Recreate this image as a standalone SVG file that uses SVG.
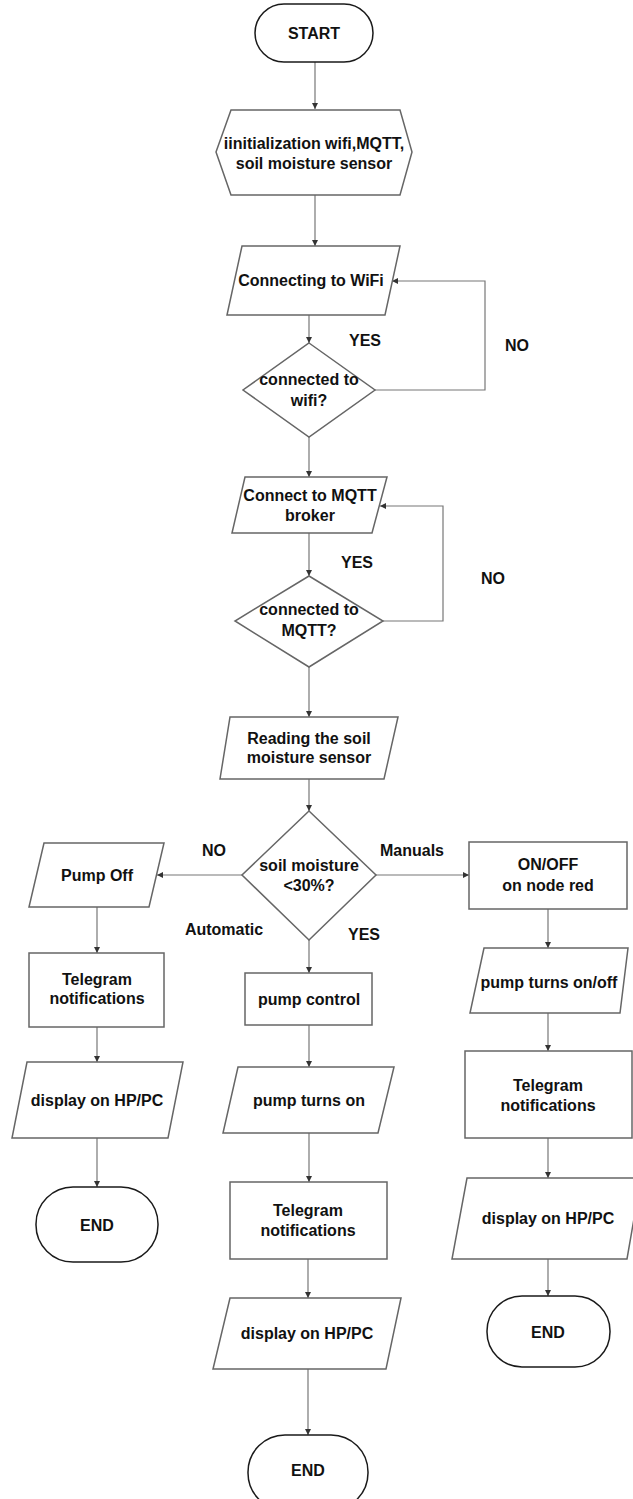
<svg xmlns="http://www.w3.org/2000/svg" width="633" height="1499" viewBox="0 0 633 1499">
<style>
.shape{fill:#ffffff;stroke:#666666;stroke-width:1.5}
.term{fill:#ffffff;stroke:#1a1a1a;stroke-width:1.5}
.t{font-family:"Liberation Sans",Arial,sans-serif;font-weight:bold;font-size:16px;fill:#111111;text-anchor:middle;dominant-baseline:central}
.conn{fill:none;stroke:#777777;stroke-width:1.2}
</style>
<defs>
<marker id="arr" markerUnits="userSpaceOnUse" markerWidth="8" markerHeight="8" refX="6" refY="3" orient="auto">
<path d="M0,0 L6,3 L0,6 z" fill="#333333"/>
</marker>
</defs>
<rect width="633" height="1499" fill="#ffffff"/>

<g id="connectors">
<path class="conn" d="M315,62 V109" marker-end="url(#arr)"/>
<path class="conn" d="M315,195 V246" marker-end="url(#arr)"/>
<path class="conn" d="M309,315 V343" marker-end="url(#arr)"/>
<path class="conn" d="M375,390 H485 V281 H392" marker-end="url(#arr)"/>
<path class="conn" d="M309,437 V477" marker-end="url(#arr)"/>
<path class="conn" d="M309,533 V576" marker-end="url(#arr)"/>
<path class="conn" d="M383,621 H443 V506 H380" marker-end="url(#arr)"/>
<path class="conn" d="M309,667 V717" marker-end="url(#arr)"/>
<path class="conn" d="M309,779 V811" marker-end="url(#arr)"/>
<path class="conn" d="M242,875 H157" marker-end="url(#arr)"/>
<path class="conn" d="M375,875 H469" marker-end="url(#arr)"/>
<path class="conn" d="M309,940 V973" marker-end="url(#arr)"/>
<path class="conn" d="M97,907 V953" marker-end="url(#arr)"/>
<path class="conn" d="M97,1027 V1062" marker-end="url(#arr)"/>
<path class="conn" d="M97,1138 V1187" marker-end="url(#arr)"/>
<path class="conn" d="M309,1025 V1067" marker-end="url(#arr)"/>
<path class="conn" d="M309,1133 V1182" marker-end="url(#arr)"/>
<path class="conn" d="M308,1259 V1298" marker-end="url(#arr)"/>
<path class="conn" d="M308,1369 V1435" marker-end="url(#arr)"/>
<path class="conn" d="M548,909 V948" marker-end="url(#arr)"/>
<path class="conn" d="M548,1013 V1051" marker-end="url(#arr)"/>
<path class="conn" d="M548,1138 V1178" marker-end="url(#arr)"/>
<path class="conn" d="M548,1259 V1296" marker-end="url(#arr)"/>
</g>

<g id="labels">
<text class="t" x="365" y="340">YES</text>
<text class="t" x="517" y="345">NO</text>
<text class="t" x="357" y="562">YES</text>
<text class="t" x="493" y="578">NO</text>
<text class="t" x="214" y="850">NO</text>
<text class="t" x="412" y="850">Manuals</text>
<text class="t" x="224" y="929">Automatic</text>
<text class="t" x="364" y="934">YES</text>
</g>

<g id="start">
<rect class="term" x="255" y="4" width="118" height="58" rx="29" ry="29"/>
<text class="t" x="314" y="33">START</text>
</g>

<g id="init">
<polygon class="shape" points="231,110 400,110 412,152 400,195 231,195 216,152"/>
<text class="t" x="314" y="143">iinitialization wifi,MQTT,</text>
<text class="t" x="314" y="163">soil moisture sensor</text>
</g>

<g id="connect-wifi">
<polygon class="shape" points="242,246 400,246 385,315 227,315"/>
<text class="t" x="311" y="280">Connecting to WiFi</text>
</g>

<g id="check-wifi">
<polygon class="shape" points="309,343 375,390 309,437 243,390"/>
<text class="t" x="309" y="379">connected to</text>
<text class="t" x="309" y="400">wifi?</text>
</g>

<g id="connect-mqtt">
<polygon class="shape" points="245,477 387,477 372,533 232,533"/>
<text class="t" x="310" y="495">Connect to MQTT</text>
<text class="t" x="310" y="515">broker</text>
</g>

<g id="check-mqtt">
<polygon class="shape" points="309,576 383,621 309,667 235,621"/>
<text class="t" x="309" y="609">connected to</text>
<text class="t" x="309" y="630">MQTT?</text>
</g>

<g id="read-sensor">
<polygon class="shape" points="230,717 398,717 384,779 220,779"/>
<text class="t" x="309" y="738">Reading the soil</text>
<text class="t" x="309" y="757">moisture sensor</text>
</g>

<g id="check-moisture">
<polygon class="shape" points="309,811 376,875 309,940 242,875"/>
<text class="t" x="309" y="865">soil moisture</text>
<text class="t" x="309" y="885">&lt;30%?</text>
</g>

<g id="pump-off">
<polygon class="shape" points="44,843 164,843 149,907 29,907"/>
<text class="t" x="97" y="875">Pump Off</text>
</g>

<g id="telegram-left">
<rect class="shape" x="29" y="953" width="135" height="74"/>
<text class="t" x="97" y="979">Telegram</text>
<text class="t" x="97" y="998">notifications</text>
</g>

<g id="display-left">
<polygon class="shape" points="27,1062 183,1062 168,1138 12,1138"/>
<text class="t" x="97" y="1100">display on HP/PC</text>
</g>

<g id="end-left">
<rect class="term" x="36" y="1187" width="122" height="75" rx="37" ry="37"/>
<text class="t" x="97" y="1225">END</text>
</g>

<g id="pump-control">
<rect class="shape" x="245" y="973" width="127" height="52"/>
<text class="t" x="309" y="999">pump control</text>
</g>

<g id="pump-on">
<polygon class="shape" points="238,1067 394,1067 378,1133 223,1133"/>
<text class="t" x="309" y="1100">pump turns on</text>
</g>

<g id="telegram-mid">
<rect class="shape" x="230" y="1182" width="157" height="77"/>
<text class="t" x="308" y="1210">Telegram</text>
<text class="t" x="308" y="1230">notifications</text>
</g>

<g id="display-mid">
<polygon class="shape" points="230,1298 401,1298 386,1369 213,1369"/>
<text class="t" x="307" y="1333">display on HP/PC</text>
</g>

<g id="end-mid">
<rect class="term" x="248" y="1435" width="120" height="75" rx="37" ry="37"/>
<text class="t" x="308" y="1470">END</text>
</g>

<g id="onoff-nodered">
<rect class="shape" x="469" y="842" width="158" height="67"/>
<text class="t" x="548" y="864">ON/OFF</text>
<text class="t" x="548" y="885">on node red</text>
</g>

<g id="pump-onoff">
<polygon class="shape" points="484,948 628,948 620,1013 470,1013"/>
<text class="t" x="549" y="982">pump turns on/off</text>
</g>

<g id="telegram-right">
<rect class="shape" x="465" y="1051" width="167" height="87"/>
<text class="t" x="548" y="1085">Telegram</text>
<text class="t" x="548" y="1105">notifications</text>
</g>

<g id="display-right">
<polygon class="shape" points="467,1178 641,1178 627,1259 452,1259"/>
<text class="t" x="548" y="1218">display on HP/PC</text>
</g>

<g id="end-right">
<rect class="term" x="487" y="1296" width="123" height="71" rx="35" ry="35"/>
<text class="t" x="548" y="1332">END</text>
</g>
</svg>
